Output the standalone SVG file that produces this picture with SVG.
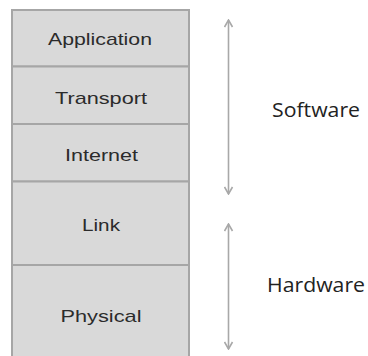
<svg xmlns="http://www.w3.org/2000/svg" width="368" height="356" viewBox="0 0 368 356">
  <style>
    .layer { fill: #d9d9d9; stroke: #a6a6a6; stroke-width: 2; }
    .lbl { font-family: "Liberation Sans", Arial, sans-serif; font-size: 17px; fill: #2b2b2b; text-anchor: middle; }
    .side { font-family: "Open Sans", "DejaVu Sans", sans-serif; font-size: 20px; fill: #222; }
    .span { stroke: #a8a8a8; stroke-width: 1.6; fill: none; }
  </style>
  <defs>
    <marker id="chev" viewBox="0 0 10 10" refX="9" refY="5" markerWidth="10" markerHeight="10" markerUnits="userSpaceOnUse" orient="auto-start-reverse">
      <path d="M2,1 L9,5 L2,9" fill="none" stroke="#a8a8a8" stroke-width="1.6"/>
    </marker>
  </defs>
  <rect width="368" height="356" fill="#ffffff"/>

  <!-- protocol stack layers -->
  <g id="application">
    <rect class="layer" x="12" y="10" width="177" height="56.5"/>
    <text class="lbl" x="100" y="45" textLength="104" lengthAdjust="spacingAndGlyphs">Application</text>
  </g>
  <g id="transport">
    <rect class="layer" x="12" y="66.5" width="177" height="57.5"/>
    <text class="lbl" x="101" y="104" textLength="92" lengthAdjust="spacingAndGlyphs">Transport</text>
  </g>
  <g id="internet">
    <rect class="layer" x="12" y="124" width="177" height="57.5"/>
    <text class="lbl" x="101.5" y="160.5" textLength="73" lengthAdjust="spacingAndGlyphs">Internet</text>
  </g>
  <g id="link">
    <rect class="layer" x="12" y="181.5" width="177" height="83.5"/>
    <text class="lbl" x="101" y="230.5" textLength="38" lengthAdjust="spacingAndGlyphs">Link</text>
  </g>
  <g id="physical">
    <rect class="layer" x="12" y="265" width="177" height="100"/>
    <text class="lbl" x="101" y="321.5" textLength="81" lengthAdjust="spacingAndGlyphs">Physical</text>
  </g>

  <!-- range brackets -->
  <g id="connectors">
    <line class="span" x1="228.5" y1="20" x2="228.5" y2="194" marker-start="url(#chev)" marker-end="url(#chev)"/>
    <line class="span" x1="228.5" y1="224" x2="228.5" y2="349" marker-start="url(#chev)" marker-end="url(#chev)"/>
  </g>

  <g id="software">
    <text class="side" x="272" y="116.5" textLength="88" lengthAdjust="spacingAndGlyphs">Software</text>
  </g>
  <g id="hardware">
    <text class="side" x="267" y="291.5" textLength="98" lengthAdjust="spacingAndGlyphs">Hardware</text>
  </g>
</svg>
